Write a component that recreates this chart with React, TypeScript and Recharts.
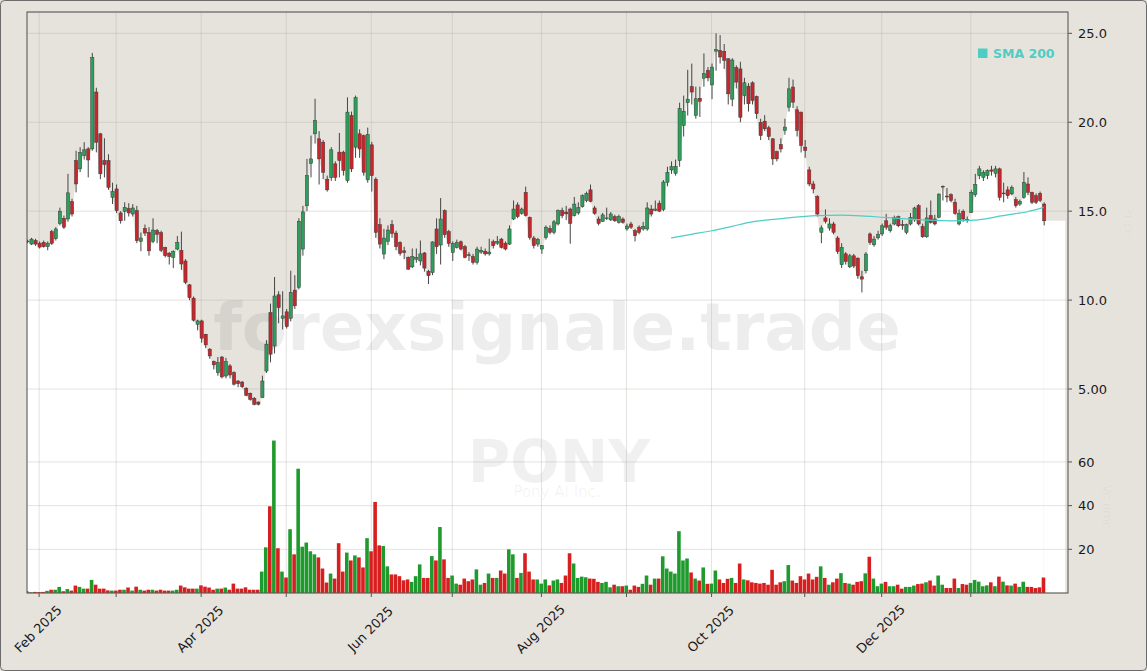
import React from 'react';
import { ComposedChart, Bar, Area, Line, XAxis, YAxis, CartesianGrid, ReferenceArea, Cell } from 'recharts';

const W = 1147;
const H = 671;
const FONT = 'DejaVu Sans, Verdana, sans-serif';

// price & volume scale limits
const PRICE_MIN = -6.47;
const PRICE_MAX = 26.2;
const PRICE_TICKS = [5, 10, 15, 20, 25];
const VOL_MAX = 266;
const VOL_TICKS = [20, 40, 60];
const X_MAX = 257;

// x axis: trading-day index of each month start, label (every other month)
const MONTH_TICKS = [3, 22, 43, 64, 85, 105, 127, 148, 169, 192, 211, 233];
const MONTH_LABELS = ['Feb 2025', '', 'Apr 2025', '', 'Jun 2025', '', 'Aug 2025', '', 'Oct 2025', '', 'Dec 2025', ''];

const OPEN = [
  13.32, 13.15, 13.35, 13.2, 13.25, 13.0, 13.85, 13.45, 14.3, 14.6,
  14.56, 15.54, 17.85, 17.38, 18.13, 18.5, 18.5, 21.7, 19.35, 17.85,
  17.85, 15.78, 16.25, 14.9, 14.99, 15.15, 14.84, 15.03, 13.3, 14.03,
  13.81, 13.3, 13.9, 13.8, 12.96, 12.64, 12.4, 12.87, 12.8, 12.2,
  10.86, 10.11, 8.64, 8.83, 8.08, 7.24, 6.55, 5.92, 6.8, 5.73,
  6.3, 5.92, 5.45, 5.39, 5.04, 4.76, 4.48, 4.27, 4.51, 6.01,
  9.3, 7.42, 10.3, 8.98, 9.34, 8.98, 10.56, 10.71, 12.87, 15.3,
  17.69, 19.35, 19.07, 18.88, 16.8, 16.9, 17.66, 18.32, 18.32, 16.72,
  20.38, 18.6, 19.35, 19.25, 16.76, 18.73, 16.8, 14.24, 12.59, 13.3,
  14.24, 13.77, 13.24, 12.77, 12.4, 11.87, 12.3, 12.2, 12.65, 11.62,
  11.55, 14.0, 13.1, 15.03, 13.85, 12.68, 12.96, 13.28, 13.0, 12.55,
  12.45, 12.12, 12.7, 12.75, 12.6, 13.28, 13.2, 13.43, 13.2, 13.15,
  14.56, 15.35, 14.88, 16.06, 14.65, 13.49, 13.15, 12.87, 13.52, 14.03,
  13.81, 14.28, 15.03, 14.95, 15.12, 14.75, 14.9, 15.25, 15.6, 16.2,
  15.18, 14.56, 14.43, 14.58, 14.51, 14.69, 14.37, 14.56, 14.0, 14.28,
  13.9, 14.1, 14.0, 14.0, 15.12, 15.05, 15.45, 15.1, 16.62, 17.32,
  17.13, 17.85, 19.82, 21.1, 22.0, 20.38, 21.35, 22.48, 22.92, 22.1,
  24.0, 24.04, 23.99, 23.57, 21.3, 23.07, 23.0, 21.5, 22.03, 22.22,
  21.45, 20.0, 20.06, 19.69, 19.07, 18.35, 18.75, 19.54, 20.85, 21.98,
  20.7, 20.57, 18.6, 17.32, 16.53, 15.82, 13.81, 14.62, 14.05, 14.28,
  13.49, 11.99, 12.6, 11.87, 12.49, 12.36, 11.31, 11.65, 13.72, 13.11,
  13.5, 13.72, 14.46, 13.9, 14.28, 14.69, 14.25, 13.81, 14.28, 14.51,
  15.31, 14.14, 13.56, 14.75, 14.56, 14.65, 16.36, 15.85, 15.93, 15.5,
  14.28, 14.99, 14.52, 14.93, 15.93, 17.0, 16.9, 17.0, 17.32, 17.13,
  17.38, 15.98, 16.2, 15.97, 15.65, 15.4, 15.78, 16.53, 16.06, 15.87,
  16.0, 15.4,
];

const HIGH = [
  13.4, 13.5, 13.45, 13.3, 13.35, 13.3, 13.95, 14.1, 15.2, 14.75,
  17.1, 15.7, 18.4, 18.6, 18.88, 18.6, 23.9, 21.94, 19.4, 19.1,
  18.2, 16.6, 16.5, 15.0, 15.5, 15.45, 15.4, 15.3, 13.8, 14.25,
  14.1, 14.6, 14.0, 13.9, 13.0, 12.7, 12.8, 13.6, 13.85, 12.3,
  10.9, 10.2, 8.9, 8.9, 8.1, 7.3, 6.6, 6.8, 6.85, 6.75,
  6.4, 6.0, 5.5, 5.45, 5.1, 4.8, 4.55, 4.3, 5.75, 7.75,
  9.8, 11.3, 10.5, 10.5, 9.5, 11.65, 11.4, 14.6, 15.3, 17.94,
  19.25, 21.32, 19.5, 19.0, 17.0, 18.6, 17.8, 19.4, 18.4, 21.4,
  20.6, 21.5, 19.6, 19.3, 19.7, 18.9, 16.9, 14.6, 14.0, 14.2,
  14.5, 13.9, 13.3, 13.0, 12.45, 12.9, 12.9, 13.35, 12.7, 11.7,
  13.3, 14.6, 15.74, 15.1, 13.95, 13.3, 13.4, 13.35, 13.1, 12.7,
  12.6, 13.0, 13.0, 12.9, 13.45, 13.4, 13.6, 13.5, 13.3, 14.2,
  15.6, 15.5, 15.2, 16.38, 14.7, 13.6, 13.5, 13.1, 14.2, 14.2,
  14.5, 15.1, 15.2, 15.3, 15.2, 15.8, 15.5, 15.95, 16.1, 16.5,
  15.3, 14.7, 14.9, 15.2, 14.95, 14.8, 14.8, 14.65, 14.3, 14.4,
  14.0, 14.2, 14.4, 15.5, 15.35, 15.6, 15.6, 16.75, 17.5, 17.8,
  17.9, 21.1, 21.5, 22.95, 23.3, 22.0, 22.0, 23.87, 23.1, 23.3,
  25.0, 24.9, 24.4, 23.6, 23.6, 23.2, 23.4, 22.5, 22.2, 22.3,
  21.5, 20.2, 20.4, 19.8, 19.1, 18.4, 19.1, 20.2, 22.5, 22.4,
  20.9, 20.6, 19.0, 17.5, 16.7, 15.9, 14.2, 15.1, 14.6, 14.4,
  13.6, 13.2, 12.7, 12.6, 12.6, 12.4, 11.65, 12.7, 13.8, 13.6,
  13.9, 14.3, 14.85, 14.3, 14.75, 14.75, 14.5, 14.3, 14.9, 15.25,
  15.4, 14.3, 15.2, 15.6, 14.8, 16.0, 16.45, 16.3, 16.0, 15.7,
  15.1, 15.1, 14.7, 16.2, 17.1, 17.55, 17.3, 17.35, 17.55, 17.55,
  17.45, 16.6, 16.4, 16.45, 15.8, 15.65, 17.2, 16.9, 16.1, 16.0,
  16.1, 15.5,
];

const LOW = [
  13.2, 13.1, 13.05, 12.9, 12.95, 12.8, 13.1, 13.35, 14.2, 14.0,
  14.4, 14.7, 16.06, 17.2, 17.9, 16.9, 18.4, 18.31, 16.8, 16.9,
  16.2, 15.4, 14.9, 14.3, 14.46, 14.7, 14.7, 13.2, 12.75, 13.6,
  12.5, 13.2, 13.2, 12.7, 12.4, 12.0, 11.8, 12.8, 11.7, 10.9,
  10.0, 8.8, 8.3, 7.6, 7.3, 6.7, 6.1, 5.75, 5.6, 5.6,
  5.6, 5.2, 5.1, 5.05, 4.6, 4.35, 4.08, 4.08, 4.5, 5.9,
  6.5, 7.0, 8.7, 8.35, 8.4, 8.8, 9.5, 10.6, 12.5, 15.0,
  16.9, 18.8, 16.5, 16.8, 16.1, 16.7, 16.7, 16.9, 17.0, 16.6,
  17.2, 18.0, 18.0, 17.0, 16.6, 16.1, 13.5, 12.9, 12.3, 13.1,
  13.5, 12.8, 12.5, 12.3, 11.7, 11.8, 12.1, 11.95, 11.6, 10.9,
  11.4, 12.6, 12.0, 13.5, 13.0, 12.2, 12.9, 12.8, 12.35, 12.2,
  12.0, 12.0, 12.6, 12.5, 12.5, 12.9, 13.1, 12.9, 12.8, 13.1,
  14.5, 14.6, 14.8, 14.7, 13.4, 12.9, 13.0, 12.6, 13.4, 13.7,
  13.7, 14.2, 14.6, 14.5, 13.17, 14.7, 14.8, 15.2, 15.5, 15.5,
  14.8, 14.2, 14.4, 14.5, 14.45, 14.4, 14.3, 14.3, 13.9, 14.0,
  13.3, 13.7, 13.9, 13.9, 14.7, 15.0, 14.95, 15.0, 16.4, 17.1,
  17.0, 17.5, 19.2, 20.38, 21.0, 20.2, 20.3, 22.0, 22.3, 21.3,
  22.9, 23.3, 23.0, 21.0, 20.9, 21.9, 20.0, 21.0, 20.6, 21.0,
  20.2, 19.0, 19.5, 19.0, 17.6, 17.8, 18.3, 19.3, 20.6, 20.8,
  19.2, 18.3, 18.0, 16.4, 16.0, 14.7, 13.2, 14.3, 13.9, 13.7,
  12.6, 11.8, 12.0, 11.8, 11.8, 11.2, 10.43, 11.5, 13.1, 13.0,
  13.4, 13.6, 13.95, 13.8, 14.2, 14.1, 13.95, 13.7, 14.2, 14.4,
  14.2, 13.5, 13.5, 14.3, 14.2, 14.6, 15.6, 15.5, 15.5, 14.8,
  14.2, 14.4, 14.35, 14.9, 15.8, 16.8, 16.7, 16.8, 17.0, 16.9,
  15.6, 15.5, 15.7, 15.9, 15.2, 15.3, 15.7, 15.9, 15.4, 15.4,
  15.5, 14.2,
];

const CLOSE = [
  13.28, 13.43, 13.15, 12.98, 13.0, 13.2, 13.19, 14.0, 15.0, 14.1,
  16.03, 14.84, 16.53, 18.31, 18.45, 17.88, 23.63, 18.88, 17.1, 17.62,
  16.34, 16.1, 15.03, 14.46, 15.21, 14.9, 15.18, 13.34, 13.49, 13.77,
  12.77, 13.94, 13.7, 12.8, 12.5, 12.45, 12.72, 13.24, 12.03, 11.0,
  10.14, 8.87, 8.83, 7.86, 7.48, 6.86, 6.36, 6.48, 5.68, 6.54,
  5.79, 5.27, 5.3, 5.13, 4.65, 4.42, 4.14, 4.14, 5.45, 7.52,
  6.96, 10.23, 9.58, 9.11, 8.51, 10.43, 9.68, 14.43, 14.96, 17.0,
  17.94, 20.1, 17.94, 17.19, 16.2, 18.45, 16.9, 17.85, 17.28, 20.57,
  17.38, 21.38, 18.5, 17.19, 19.3, 17.0, 13.81, 13.15, 13.49, 13.94,
  13.75, 13.0, 12.62, 12.68, 11.74, 12.44, 12.4, 12.6, 11.8, 11.37,
  13.27, 13.0, 14.56, 13.68, 13.19, 13.19, 13.24, 12.87, 12.4, 12.5,
  12.12, 12.87, 12.8, 12.6, 12.7, 13.06, 13.3, 12.96, 12.87, 14.0,
  15.12, 14.69, 15.12, 14.75, 13.52, 13.06, 13.41, 13.06, 14.1, 13.81,
  14.4, 15.03, 14.75, 14.85, 14.31, 15.4, 15.2, 15.87, 16.0, 15.55,
  14.88, 14.31, 14.79, 14.62, 14.84, 14.46, 14.69, 14.37, 14.16, 14.1,
  13.62, 13.81, 14.15, 15.18, 14.84, 15.12, 15.0, 16.64, 17.19, 17.5,
  17.52, 20.76, 20.62, 21.3, 21.7, 21.32, 21.18, 22.73, 22.5, 23.1,
  24.08, 23.67, 23.48, 21.6, 23.5, 22.26, 20.28, 22.22, 21.04, 21.23,
  20.48, 19.25, 19.63, 19.2, 17.94, 17.94, 18.5, 19.73, 21.88, 21.13,
  19.54, 18.69, 18.41, 16.53, 16.25, 14.84, 14.06, 14.43, 14.28, 13.81,
  12.73, 12.96, 12.17, 12.49, 11.92, 11.37, 11.18, 12.59, 13.24, 13.43,
  13.7, 14.18, 14.1, 14.18, 14.65, 14.18, 14.2, 14.24, 14.65, 15.18,
  14.28, 13.56, 14.62, 14.37, 14.28, 15.96, 16.4, 15.8, 15.6, 14.88,
  14.88, 14.56, 14.48, 16.06, 16.49, 17.38, 17.19, 17.28, 17.25, 17.38,
  15.78, 16.02, 15.87, 16.34, 15.31, 15.55, 16.62, 16.06, 15.5, 15.5,
  15.6, 14.46,
];

// volume, millions of shares
const VOLUME = [
  0.8, 0.3, 0.5, 0.4, 0.5, 1.0, 1.5, 1.5, 2.8, 0.8,
  1.8, 1.1, 3.4, 2.8, 2.0, 2.0, 6.0, 3.8, 2.0, 2.0,
  1.2, 1.1, 1.1, 1.5, 1.5, 2.5, 1.1, 2.9, 1.5, 1.1,
  1.5, 1.5, 1.1, 1.5, 1.1, 1.1, 1.1, 1.5, 3.4, 2.6,
  2.0, 2.0, 2.0, 3.5, 2.9, 2.5, 1.5, 2.0, 2.0, 2.5,
  1.5, 4.3, 2.0, 2.0, 2.6, 1.5, 1.5, 1.5, 9.8, 20.9,
  39.7, 69.8, 20.5, 9.8, 7.1, 29.2, 17.7, 56.9, 21.2, 23.1,
  19.1, 17.7, 16.3, 11.2, 4.8, 8.9, 6.6, 22.8, 9.8, 18.5,
  14.9, 17.2, 16.3, 11.7, 25.1, 19.1, 41.7, 21.8, 21.5, 12.2,
  8.5, 8.5, 7.7, 5.8, 6.2, 5.1, 7.7, 13.1, 6.9, 6.9,
  16.9, 14.9, 30.2, 15.4, 6.9, 8.0, 4.3, 3.8, 6.6, 5.4,
  6.2, 10.8, 3.8, 4.6, 8.9, 6.9, 6.9, 10.3, 8.9, 20.0,
  17.7, 6.9, 9.2, 18.2, 9.8, 6.2, 6.2, 4.3, 6.2, 3.5,
  5.7, 6.2, 4.6, 8.0, 18.2, 13.5, 6.9, 7.5, 7.2, 6.6,
  6.5, 5.1, 4.6, 5.1, 2.6, 3.8, 3.1, 3.1, 3.4, 1.5,
  3.4, 2.8, 4.2, 8.0, 3.8, 6.6, 6.6, 16.8, 11.2, 9.8,
  8.9, 28.3, 14.9, 15.8, 9.4, 6.6, 5.7, 11.7, 4.2, 4.3,
  10.3, 6.2, 4.6, 6.5, 6.9, 4.6, 13.5, 6.2, 5.8, 4.9,
  4.6, 4.3, 4.6, 3.8, 10.6, 3.8, 4.9, 5.4, 12.8, 5.7,
  4.6, 7.7, 6.2, 8.9, 6.2, 7.4, 12.2, 6.9, 3.8, 4.9,
  6.6, 9.1, 4.6, 4.3, 3.8, 5.1, 5.4, 9.0, 16.6, 6.6,
  3.1, 4.3, 5.1, 3.1, 3.1, 3.8, 2.0, 2.8, 2.8, 3.4,
  4.1, 4.3, 4.9, 5.7, 3.4, 8.0, 3.8, 2.3, 2.3, 6.6,
  2.3, 4.1, 3.8, 4.6, 6.0, 5.2, 3.1, 3.5, 4.9, 3.1,
  7.5, 5.2, 3.5, 3.4, 4.3, 2.8, 5.2, 2.8, 2.8, 2.3,
  2.6, 7.1,
];

// SMA 200, read at a few points along the line
const SMA_INDEX = [159, 164, 169, 174, 179, 185, 189, 195, 201, 206, 211, 216, 220, 228, 233, 237, 240, 244, 247, 251];
const SMA_VALUE = [13.49, 13.7, 13.9, 14.15, 14.4, 14.55, 14.65, 14.75, 14.78, 14.74, 14.66, 14.58, 14.52, 14.46, 14.48, 14.58, 14.72, 14.86, 14.97, 15.21];

const UP = '#2ca05a';
const DOWN = '#c8262b';
const VOL_UP = '#1f9a2d';
const VOL_DOWN = '#d71f1f';
const SMA_COLOR = '#4ecdc4';
const GRID = '#b0aca4';

const rows = OPEN.map((o, i) => {
  const k = SMA_INDEX.indexOf(i);
  return {
    i,
    open: o,
    high: HIGH[i],
    low: LOW[i],
    close: CLOSE[i],
    volume: VOLUME[i],
    bodyLow: Math.min(o, CLOSE[i]),
    sma: k >= 0 ? SMA_VALUE[k] : null,
  };
});
const last = rows[rows.length - 1];

const Candle = (props: any) => {
  const { x, y, width, height, payload } = props;
  if (x == null || !payload) return null;
  const top = Math.min(y, y + height);
  const h = Math.abs(height);
  const span = payload.high - payload.low || 1;
  const py = (v: number) => top + ((payload.high - v) / span) * h;
  const cx = x + width / 2;
  const up = payload.close >= payload.open;
  const b1 = py(Math.max(payload.open, payload.close));
  const b2 = py(Math.min(payload.open, payload.close));
  const bw = 3.2;
  return (
    <g>
      <line x1={cx} x2={cx} y1={top} y2={top + h} stroke="#454545" strokeWidth={1} />
      <rect x={cx - bw / 2} y={b1} width={bw} height={Math.max(b2 - b1, 0.8)} fill={up ? UP : DOWN} stroke="#3a3a3a" strokeWidth={0.5} />
    </g>
  );
};

const MonthTick = ({ x, y, payload }: any) => {
  const label = MONTH_LABELS[MONTH_TICKS.indexOf(payload.value)];
  if (!label) return null;
  return (
    <text transform={`translate(${x - 1},${y + 30}) rotate(-45)`} textAnchor="middle" dominantBaseline="central" fontSize={13} fill="#1a1a1a" fontFamily={FONT}>
      {label}
    </text>
  );
};

const priceFmt = (v: number) => (v >= 10 ? v.toFixed(1) : v.toFixed(2));

const layer: React.CSSProperties = { position: 'absolute', left: 0, top: 0 };
const hiddenMargin = { top: 12, right: 79, bottom: 78, left: 27 };

export default function App() {
  return (
    <div style={{ position: 'absolute', left: 0, top: 0, width: W, height: H, background: '#e6e3dd', fontFamily: FONT, overflow: 'hidden' }}>
      {/* white fill under the candle bodies */}
      <div style={layer}>
        <ComposedChart width={W} height={H} data={rows} margin={hiddenMargin}>
          <XAxis dataKey="i" type="number" domain={[0, X_MAX]} hide allowDataOverflow />
          <YAxis domain={[PRICE_MIN, PRICE_MAX]} hide allowDataOverflow />
          <Area dataKey="bodyLow" type="monotone" baseValue={PRICE_MIN} fill="#ffffff" fillOpacity={1} stroke="none" isAnimationActive={false} />
          <ReferenceArea x1={last.i} x2={X_MAX - 0.7} y1={PRICE_MIN} y2={last.bodyLow} fill="#ffffff" fillOpacity={1} stroke="none" />
        </ComposedChart>
      </div>

      {/* watermark */}
      <svg width={W} height={H} style={layer}>
        <text x={557} y={327} textAnchor="middle" dominantBaseline="central" fontSize={66} fontWeight="bold" fill="#000" fillOpacity={0.07}>forexsignale.trade</text>
        <text x={559} y={482} textAnchor="middle" fontSize={58} fontWeight="bold" fill="#000" fillOpacity={0.06}>PONY</text>
        <text x={557} y={497} textAnchor="middle" fontSize={15} fill="#000" fillOpacity={0.06}>Pony AI Inc.</text>
      </svg>

      {/* price panel */}
      <div style={layer}>
        <ComposedChart width={W} height={H} data={rows} margin={{ top: 12, right: 1, bottom: 8, left: 27 }}>
          <CartesianGrid stroke={GRID} strokeOpacity={0.35} strokeWidth={1} />
          <XAxis
            dataKey="i"
            type="number"
            domain={[0, X_MAX]}
            ticks={MONTH_TICKS}
            interval={0}
            allowDataOverflow
            height={70}
            axisLine={false}
            tickLine={{ stroke: '#555' }}
            tickSize={4}
            tick={<MonthTick />}
          />
          <YAxis
            orientation="right"
            width={78}
            domain={[PRICE_MIN, PRICE_MAX]}
            ticks={PRICE_TICKS}
            interval={0}
            allowDataOverflow
            axisLine={false}
            tickLine={{ stroke: '#555' }}
            tickSize={4}
            tickMargin={6}
            tickFormatter={priceFmt}
            tick={{ fontSize: 13, fill: '#1a1a1a' }}
          />
          <Bar dataKey={(d: any) => [d.low, d.high]} barSize={3} shape={<Candle />} isAnimationActive={false} />
          <Line dataKey="sma" type="monotone" stroke={SMA_COLOR} strokeWidth={1.2} dot={false} connectNulls isAnimationActive={false} />
        </ComposedChart>
      </div>

      {/* volume panel */}
      <div style={layer}>
        <ComposedChart width={W} height={H} data={rows} margin={{ top: 12, right: 1, bottom: 78, left: 27 }}>
          <CartesianGrid vertical={false} stroke={GRID} strokeOpacity={0.35} strokeWidth={1} />
          <XAxis dataKey="i" type="number" domain={[0, X_MAX]} hide allowDataOverflow />
          <YAxis
            orientation="right"
            width={78}
            domain={[0, VOL_MAX]}
            ticks={VOL_TICKS}
            interval={0}
            allowDataOverflow
            axisLine={false}
            tickLine={{ stroke: '#555' }}
            tickSize={4}
            tickMargin={6}
            tick={{ fontSize: 13, fill: '#1a1a1a' }}
          />
          <Bar dataKey="volume" barSize={3.6} isAnimationActive={false}>
            {rows.map((r) => (
              <Cell key={r.i} fill={r.close >= r.open ? VOL_UP : VOL_DOWN} />
            ))}
          </Bar>
        </ComposedChart>
      </div>

      {/* frame, legend, faint axis labels */}
      <svg width={W} height={H} style={{ ...layer, pointerEvents: 'none' }}>
        <rect x={27} y={12} width={1041} height={581} fill="none" stroke="#585858" strokeWidth={1} />
        <rect x={978} y={48.5} width={9.5} height={9.5} fill={SMA_COLOR} />
        <text x={993} y={57.5} fontSize={12.5} fontWeight="bold" fill={SMA_COLOR}>SMA 200</text>
        <text transform="translate(1124,222) rotate(90)" textAnchor="middle" fontSize={12} fill="#000" fillOpacity={0.04}>Price</text>
        <text transform="translate(1103,507) rotate(90)" textAnchor="middle" fontSize={12} fill="#000" fillOpacity={0.04}>Volume</text>
        <rect x={0.5} y={0.5} width={W - 1} height={H - 1} rx={4} fill="none" stroke="#6b6b6b" strokeWidth={1} />
      </svg>
    </div>
  );
}
